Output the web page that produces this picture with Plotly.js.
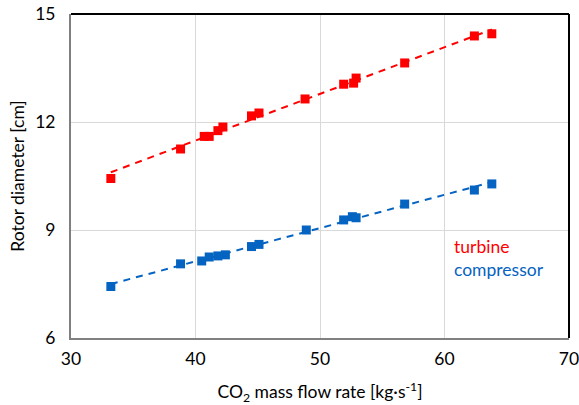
<!DOCTYPE html>
<html>
<head>
<meta charset="utf-8">
<script src="https://cdn.plot.ly/plotly-3.0.1.min.js"></script>
<style>html,body{margin:0;padding:0;background:#fff;}#chart{width:579px;height:405px;}</style>
</head>
<body>
<div id="chart"></div>
<script>
const turbineX = [33.2, 38.8, 40.7, 41.1, 41.8, 42.2, 44.5, 45.1, 48.8, 51.9, 52.7, 52.9, 56.8, 62.4, 63.8];
const turbineY = [10.43, 11.25, 11.6, 11.6, 11.76, 11.86, 12.17, 12.25, 12.64, 13.05, 13.08, 13.22, 13.64, 14.39, 14.45];
const compX = [33.2, 38.8, 40.5, 41.1, 41.8, 42.4, 44.5, 45.1, 48.9, 51.9, 52.6, 52.9, 56.8, 62.4, 63.8];
const compY = [7.43, 8.06, 8.14, 8.25, 8.28, 8.31, 8.54, 8.6, 9.0, 9.28, 9.37, 9.34, 9.72, 10.11, 10.28];
const xTicks = [30, 40, 50, 60, 70];
const yTicks = [6, 9, 12, 15];
const seriesNames = ['turbine', 'compressor'];
const red = '#FF0000', blue = '#0563C1';

function fit(xs, ys) {
  const n = xs.length;
  const mx = xs.reduce((a, b) => a + b, 0) / n;
  const my = ys.reduce((a, b) => a + b, 0) / n;
  let sxy = 0, sxx = 0;
  for (let i = 0; i < n; i++) { sxy += (xs[i] - mx) * (ys[i] - my); sxx += (xs[i] - mx) ** 2; }
  const b = sxy / sxx, a = my - b * mx;
  const x0 = Math.min(...xs), x1 = Math.max(...xs);
  return {x: [x0, x1], y: [a + b * x0, a + b * x1]};
}
const ft = fit(turbineX, turbineY), fc = fit(compX, compY);

const traces = [
  {x: ft.x, y: ft.y, mode: 'lines', line: {color: red, width: 2, dash: '7px,6px'}, hoverinfo: 'skip'},
  {x: fc.x, y: fc.y, mode: 'lines', line: {color: blue, width: 2, dash: '7px,6px'}, hoverinfo: 'skip'},
  {x: turbineX, y: turbineY, mode: 'markers', name: seriesNames[0], marker: {symbol: 'square', size: 9, color: red}},
  {x: compX, y: compY, mode: 'markers', name: seriesNames[1], marker: {symbol: 'square', size: 9, color: blue}}
];

const font = 'Lato, "Open Sans", sans-serif';
const fs = 17.5;
const layout = {
  width: 579, height: 405,
  margin: {l: 71, r: 10, t: 14, b: 67},
  showlegend: false,
  paper_bgcolor: '#fff', plot_bgcolor: '#fff',
  font: {family: font, size: fs, color: '#000'},
  xaxis: {
    range: [30, 70], tickvals: xTicks, ticktext: xTicks.map(String),
    showgrid: true, gridcolor: '#d9d9d9', gridwidth: 1,
    showline: true, linecolor: '#808080', linewidth: 2,
    zeroline: false, ticks: '', ticklen: 0, ticklabelstandoff: 4,
    ticklabeloverflow: 'allow',
    tickfont: {size: fs, family: font, color: '#000'},
    title: {text: 'CO<sub>2</sub> mass flow rate [kg·s<sup>-1</sup>]', font: {size: fs, family: font, color: '#000'}, standoff: 18}
  },
  yaxis: {
    range: [6, 15], tickvals: yTicks, ticktext: yTicks.map(String),
    showgrid: true, gridcolor: '#d9d9d9', gridwidth: 1,
    showline: true, linecolor: '#808080', linewidth: 2,
    zeroline: false, ticks: '', ticklen: 0, ticklabelstandoff: 10,
    ticklabeloverflow: 'allow',
    tickfont: {size: fs, family: font, color: '#000'},
    title: {text: 'Rotor diameter [cm]', font: {size: fs, family: font, color: '#000'}, standoff: 6}
  },
  shapes: [
    {type: 'line', xref: 'paper', yref: 'paper', x0: 0, x1: 1, y0: 1, y1: 1, line: {color: '#000', width: 2}},
    {type: 'line', xref: 'paper', yref: 'paper', x0: 1, x1: 1, y0: 0, y1: 1, line: {color: '#000', width: 2}}
  ],
  annotations: [
    {x: 60.6, y: 8.55, xref: 'x', yref: 'y', text: seriesNames[0], showarrow: false, xanchor: 'left', font: {size: fs, family: font, color: red}},
    {x: 60.6, y: 7.9, xref: 'x', yref: 'y', text: seriesNames[1], showarrow: false, xanchor: 'left', font: {size: fs, family: font, color: blue}}
  ]
};
Plotly.newPlot('chart', traces, layout, {displayModeBar: false, staticPlot: true});
</script>
</body>
</html>
